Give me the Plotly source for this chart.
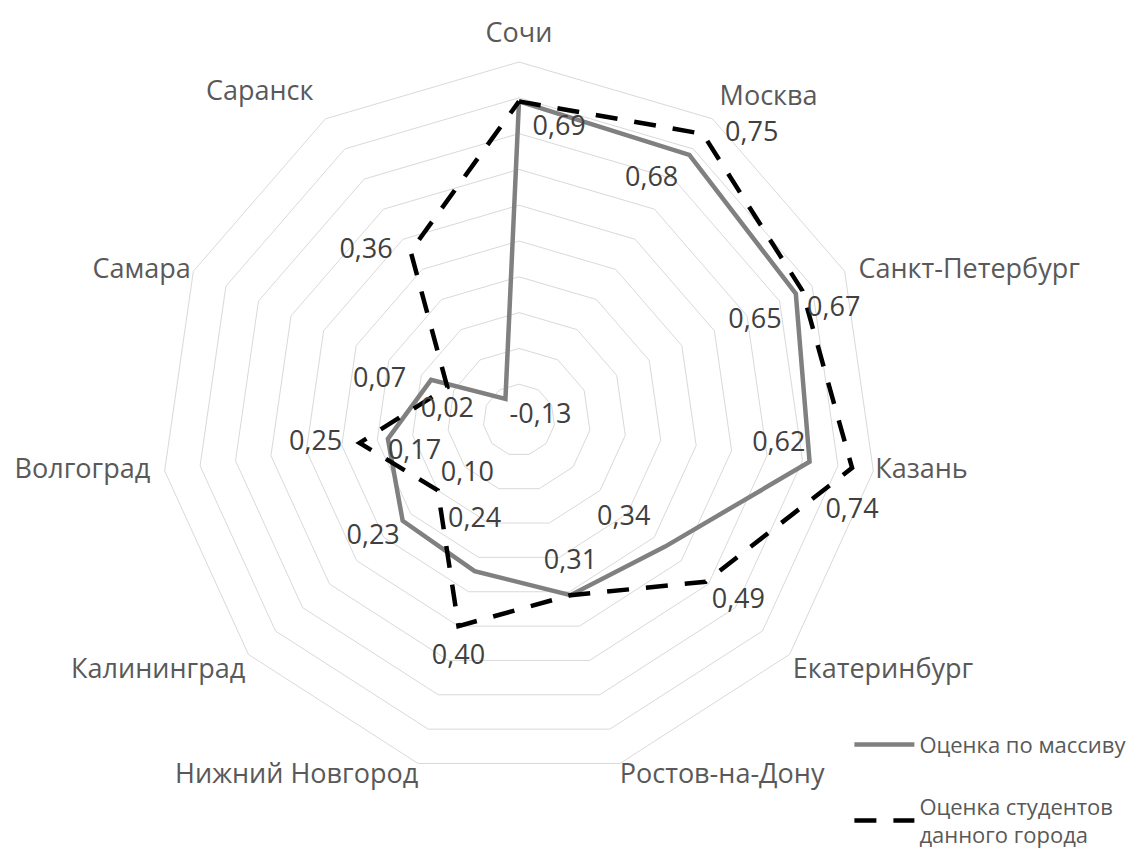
import plotly.graph_objects as go

categories = ["Сочи", "Москва", "Санкт-Петербург", "Казань", "Екатеринбург",
              "Ростов-на-Дону", "Нижний Новгород", "Калининград", "Волгоград",
              "Самара", "Саранск"]
series_names = ["Оценка по массиву", "Оценка студентов<br>данного города"]
massiv = [0.69, 0.68, 0.65, 0.62, 0.34, 0.31, 0.24, 0.23, 0.17, 0.07, -0.13]
students = [0.69, 0.75, 0.67, 0.74, 0.49, 0.31, 0.40, 0.10, 0.25, 0.02, 0.36]
show_students_label = [False, True, True, True, True, False, True, True, True, True, True]

RMIN, RMAX = -0.2, 0.8

# label placement (style only)
pos_massiv = ["bottom right", "bottom left", "bottom left", "top left", "top left",
              "top center", "top center", "bottom left", "bottom right",
              "middle left", "bottom right"]
off_massiv = [20, 16, 21, 5, 22, 29, 59, 3, 0, 38, 5]
pos_students = ["top right", "middle right", "bottom right", "bottom center",
                "bottom right", "top right", "bottom center", "top right",
                "middle left", "bottom center", "middle left"]
off_students = [0, 34, 6, 46, 8, 0, 27, 3, 26, 14, 27]
pos_cat = ["top center", "top right", "middle right", "middle right", "bottom right",
           "bottom right", "bottom left", "bottom left", "middle left",
           "middle left", "top left"]
off_cat = [21, 10, 21, 2, 4, 0, 0, 4, 22, 3, 18]

LABEL_FONT = dict(family="Open Sans", size=27, color="#404040")
CAT_FONT = dict(family="Open Sans", size=27, color="#595959")


def fmt(v):
    return f"{v:.2f}".replace(".", ",")


def closed(a):
    return list(a) + [a[0]]


fig = go.Figure()
fig.add_trace(go.Scatterpolar(
    r=closed(massiv), theta=closed(categories), mode="lines",
    line=dict(color="#808080", width=4.5), name=series_names[0],
    legendgroup="a", subplot="polar"))
fig.add_trace(go.Scatterpolar(
    r=closed(students), theta=closed(categories), mode="lines",
    line=dict(color="#000000", width=4.5, dash="22px,17px"), name=series_names[1],
    legendgroup="b", subplot="polar"))

# data labels live on a transparent overlay polar whose radial scale starts at
# the main axis minimum (same geometry), so that labels near the centre render
for vals, texts, pos, off in (
        (massiv, [fmt(v) for v in massiv], pos_massiv, off_massiv),
        (students, [fmt(v) if s else "" for v, s in zip(students, show_students_label)],
         pos_students, off_students)):
    fig.add_trace(go.Scatterpolar(
        r=[v - RMIN for v in vals], theta=categories, mode="markers+text",
        text=texts, textposition=pos, textfont=LABEL_FONT,
        marker=dict(size=off, color="rgba(0,0,0,0)", line=dict(width=0)),
        showlegend=False, hoverinfo="skip", cliponaxis=False, subplot="polar2"))

# category labels, anchored at the outer ring vertices
fig.add_trace(go.Scatterpolar(
    r=[(RMAX - RMIN) * 0.999] * len(categories), theta=categories,
    mode="markers+text", text=categories, textposition=pos_cat, textfont=CAT_FONT,
    marker=dict(size=off_cat, color="rgba(0,0,0,0)", line=dict(width=0)),
    showlegend=False, hoverinfo="skip", cliponaxis=False, subplot="polar2"))

R = 358
cx, cy = 511, 412
W, H = 1137, 858
domain = dict(x=[(cx - R) / W, (cx + R) / W], y=[(H - cy - R) / H, (H - cy + R) / H])

fig.update_layout(
    width=W, height=H,
    margin=dict(l=0, r=0, t=0, b=0),
    paper_bgcolor="white", plot_bgcolor="white",
    font=dict(family="Open Sans", color="#595959"),
    polar=dict(
        domain=domain,
        gridshape="linear",
        bgcolor="white",
        radialaxis=dict(range=[RMIN, RMAX], dtick=0.1, tick0=0, showticklabels=False,
                        ticks="", showline=False, gridcolor="#d9d9d9", gridwidth=1),
        angularaxis=dict(direction="clockwise", rotation=90, showgrid=False,
                         categoryorder="array", categoryarray=categories,
                         showline=True, linecolor="#d9d9d9", linewidth=1,
                         showticklabels=False, ticks=""),
    ),
    polar2=dict(
        domain=domain,
        gridshape="linear",
        bgcolor="rgba(0,0,0,0)",
        radialaxis=dict(range=[0, RMAX - RMIN], showticklabels=False, ticks="",
                        showline=False, showgrid=False),
        angularaxis=dict(direction="clockwise", rotation=90, showgrid=False,
                         categoryorder="array", categoryarray=categories,
                         showline=False, showticklabels=False, ticks=""),
    ),
    legend=dict(x=0.74, xanchor="left", y=0.012, yanchor="bottom",
                font=dict(family="Open Sans", size=22, color="#595959"),
                traceorder="grouped", tracegroupgap=30, itemwidth=60,
                bgcolor="rgba(0,0,0,0)"),
)

fig.write_html("out.html")
